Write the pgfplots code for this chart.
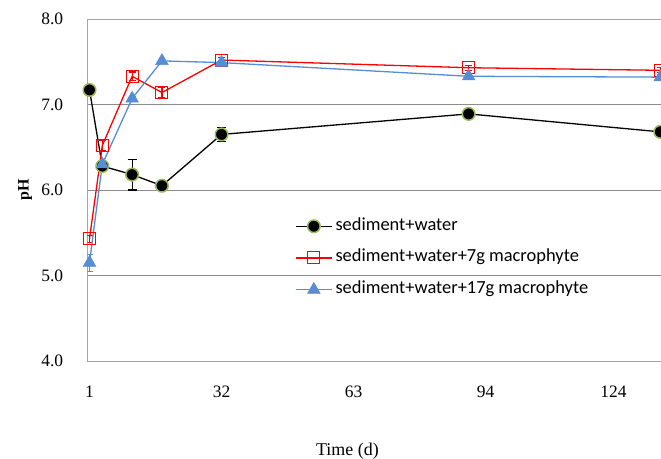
\documentclass[border=0pt]{standalone}
\usepackage{fontspec}
\setmainfont{Liberation Serif}
\newfontfamily\legfont{Carlito}
\usepackage{pgfplots}
\pgfplotsset{compat=1.18}
\definecolor{cblue}{RGB}{85,142,213}
\definecolor{cgreen}{RGB}{155,187,89}
\definecolor{cgrid}{RGB}{140,140,140}
\definecolor{caxis}{RGB}{165,165,165}
\begin{document}
\begin{tikzpicture}
\begin{axis}[
  at={(0,0)}, anchor=south west,
  scale only axis, width=579.4bp, height=342bp,
  xmin=0.48, xmax=136.5, ymin=4, ymax=8,
  xtick={1,32,63,94,124},
  ytick={4,5,6,7,8},
  /pgf/number format/assume math mode=true,
  major tick length=0pt,
  ymajorgrids, grid style={cgrid, line width=0.8bp},
  axis line style={caxis, line width=0.8bp},
  ticklabel style={font=\fontsize{17.5}{20}\selectfont},
  xticklabel style={anchor=base, yshift=-36bp},
  yticklabel style={anchor=east, xshift=-20.6bp, /pgf/number format/fixed, /pgf/number format/fixed zerofill, /pgf/number format/precision=1},
  xlabel={Time (d)},
  xlabel style={at={(axis description cs:0.449,0)}, anchor=base, yshift=-94bp, font=\fontsize{18}{21}\selectfont},
  ylabel={\textbf{pH}},
  ylabel style={at={(axis description cs:0,0.5)}, anchor=center, yshift=62.3bp, font=\fontsize{16}{19}\selectfont},
  legend cell align=left,
  legend style={at={(axis description cs:0.3585,0.418)}, anchor=north west, draw=none, fill=none, inner sep=0pt,
     font=\legfont\fontsize{18.5}{21}\selectfont,
     nodes={inner sep=0pt, text height=12bp, text depth=4bp},
     row sep=15.7bp, column sep=3bp},
  legend image code/.code={\draw[mark repeat=2,mark phase=2,#1] plot coordinates {(0bp,0bp) (18bp,0bp) (36bp,0bp)};},
]
\addplot[black, line width=1.3bp, mark=*, mark size=6.3bp, mark options={fill=black, draw=cgreen, line width=1.5bp},
  error bars/.cd, y dir=both, y explicit,
  error bar style={black, line width=1.2bp}, error mark options={rotate=90, mark size=4.5bp, black, line width=1.2bp}]
  table[x=d, y=p, y error=e] {
d p e
1 7.17 0.00
4 6.28 0.02
11 6.18 0.18
18 6.05 0.00
32 6.65 0.08
90 6.89 0.00
135 6.68 0.00
};
\addlegendentry{sediment+water}
\addplot[red, line width=1.3bp, mark=square, mark size=6bp, mark options={draw=red, line width=1bp},
  error bars/.cd, y dir=both, y explicit,
  error bar style={red, line width=1.2bp}, error mark options={rotate=90, mark size=3.5bp, red, line width=1.2bp}]
  table[x=d, y=p, y error=e] {
d p e
1 5.43 0.04
4 6.52 0.06
11 7.33 0.05
18 7.14 0.06
32 7.52 0.03
90 7.43 0.03
135 7.40 0.03
};
\addlegendentry{sediment+water+7g macrophyte}
\addplot[cblue, line width=1.3bp, mark=triangle*, mark size=7.3bp, mark options={fill=cblue, draw=cblue, line width=0.5bp},
  error bars/.cd, y dir=both, y explicit,
  error bar style={cblue, line width=1.2bp}, error mark options={rotate=90, mark size=3.5bp, cblue, line width=1.2bp}]
  table[x=d, y=p, y error=e] {
d p e
1 5.15 0.10
4 6.30 0.02
11 7.07 0.02
18 7.51 0.02
32 7.49 0.02
90 7.33 0.02
135 7.32 0.02
};
\addlegendentry{sediment+water+17g macrophyte}
\end{axis}
\pgfresetboundingbox
\path[use as bounding box] (-87.3bp,-98bp) rectangle (573.7bp,361bp);
\end{tikzpicture}
\end{document}
